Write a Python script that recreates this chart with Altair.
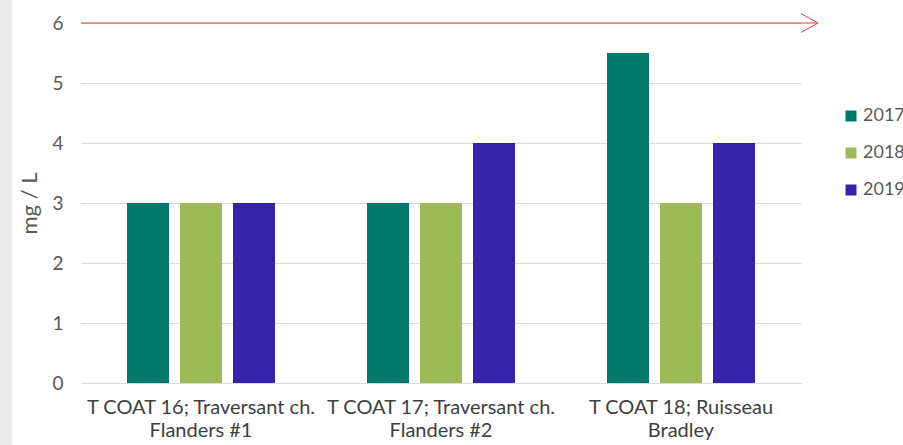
import altair as alt
import pandas as pd

# Sampling sites (line break marks where the axis label wraps)
sites = [
    "T COAT 16; Traversant ch.\nFlanders #1",
    "T COAT 17; Traversant ch.\nFlanders #2",
    "T COAT 18; Ruisseau\nBradley",
]
years = ["2017", "2018", "2019"]
values_2017 = [3, 3, 5.5]
values_2018 = [3, 3, 3]
values_2019 = [3, 4, 4]
year_colors = ["#00796a", "#9bbb59", "#3523a8"]
limit_value = 6

FONT = "Lato"

rows = []
for year, vals in zip(years, [values_2017, values_2018, values_2019]):
    for site, v in zip(sites, vals):
        rows.append({"site": site, "year": year, "value": v})
df = pd.DataFrame(rows)
limit_df = pd.DataFrame({"limit": [limit_value]})

y_scale = alt.Scale(domain=[0, 6], nice=False)

bars = alt.Chart(df).mark_bar().encode(
    x=alt.X(
        "site:N",
        sort=sites,
        scale=alt.Scale(paddingInner=0, paddingOuter=0),
        axis=alt.Axis(
            title=None,
            labelAngle=0,
            labelExpr="split(datum.label, '\\n')",
            labelLimit=400,
            labelFontSize=20,
            labelColor="#404040",
            labelPadding=14,
            labelLineHeight=23,
            labelFont=FONT,
            ticks=False,
            domain=True,
            domainColor="#d9d9d9",
            grid=False,
        ),
    ),
    xOffset=alt.XOffset(
        "year:N",
        sort=years,
        scale=alt.Scale(paddingInner=11 / 53, paddingOuter=46 / 53),
    ),
    y=alt.Y(
        "value:Q",
        scale=y_scale,
        axis=alt.Axis(
            title="mg / L",
            values=[0, 1, 2, 3, 4, 5, 6],
            format="d",
            grid=True,
            gridColor="#d9d9d9",
            domain=False,
            ticks=False,
            labelPadding=18,
            labelFontSize=19,
            labelColor="#595959",
            labelFont=FONT,
            titleFont=FONT,
            titleFontSize=22,
            titleFontWeight="normal",
            titleColor="#595959",
            titlePadding=10,
        ),
    ),
    color=alt.Color(
        "year:N",
        scale=alt.Scale(domain=years, range=year_colors),
        legend=alt.Legend(
            title=None,
            orient="none",
            legendX=761,
            legendY=84,
            padding=0,
            symbolType="square",
            symbolSize=121,
            symbolStrokeWidth=0,
            labelFontSize=18,
            labelFont=FONT,
            labelColor="#595959",
            rowPadding=19,
            labelOffset=3,
            labelLimit=300,
        ),
    ),
)

# Limit line with an open arrowhead
limit_rule = alt.Chart(limit_df).mark_rule(color="#e63b36", strokeWidth=1).encode(
    x=alt.value(0),
    x2=alt.value(737),
    y=alt.Y("limit:Q", scale=y_scale),
)
arrow_head = alt.Chart(limit_df).mark_point(
    shape="M -0.8 -1 L 1 0 L -0.8 1",
    filled=False,
    color="#e63b36",
    strokeWidth=1,
    size=361,
    opacity=1,
).encode(
    x=alt.value(727.5),
    y=alt.Y("limit:Q", scale=y_scale),
)

# Light grey strip along the left edge
strip = alt.Chart(limit_df).mark_rect(color="#e9e9e7").encode(
    x=alt.value(-81),
    x2=alt.value(-69),
    y=alt.value(-23),
    y2=alt.value(422),
)

chart = (
    alt.layer(strip, bars, limit_rule, arrow_head)
    .properties(
        width=720,
        height=360,
        autosize=alt.AutoSizeParams(type="none"),
        padding={"left": 81, "top": 23, "right": 102, "bottom": 62},
        background="white",
    )
    .configure_view(stroke=None)
)

chart.save("out.html", embed_options={"renderer": "svg", "actions": False})
